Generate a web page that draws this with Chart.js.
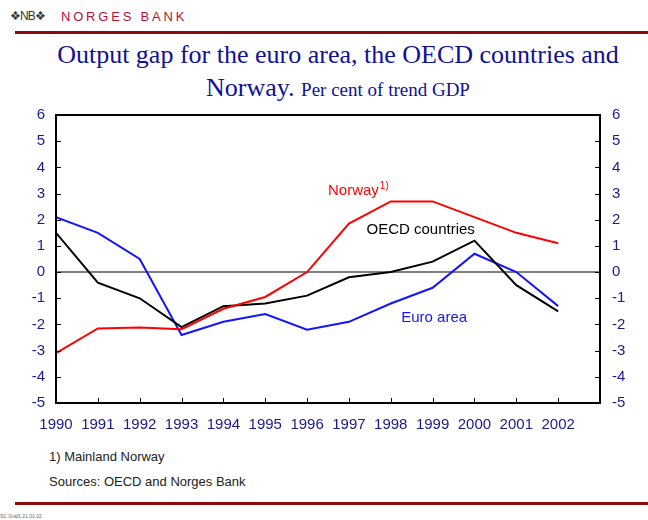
<!DOCTYPE html>
<html lang="en">
<head>
  <meta charset="UTF-8">
  <title>Output gap</title>
  <script src="https://cdn.jsdelivr.net/npm/chart.js"></script>
  <style>
    body {
      margin: 0;
      width: 648px;
      height: 520px;
      position: relative;
      background: #fff;
      overflow: hidden;
      font-family: "Liberation Sans", Arial, sans-serif;
    }
    .logo {
      position: absolute; left: 10px; top: 9px;
      font-size: 12px; color: #333; letter-spacing: -1px;
    }
    .bank {
      position: absolute; left: 61px; top: 9px;
      font-size: 13px; color: #b5103a; letter-spacing: 2.8px;
    }
    .rule {
      position: absolute; left: 15px; right: 0; height: 3px;
      background: #8e0a0a;
    }
    .title {
      position: absolute; left: 0; width: 676px; text-align: center;
      font-family: "Liberation Serif", "Times New Roman", serif;
      color: #10109a; white-space: nowrap;
    }
    .title small { font-size: 19px; }
    .note {
      position: absolute; left: 49px;
      font-family: "Liberation Sans Narrow", "Arial Narrow", "Liberation Sans", sans-serif;
      font-size: 13px; color: #222;
    }
    .stamp {
      position: absolute; left: 0; top: 513px;
      font-size: 5px; color: #666;
    }
    #chartBox {
      position: absolute; left: 0; top: 94px; width: 648px; height: 336px;
    }
  </style>
</head>
<body>
  <div class="logo">&#10070;NB&#10070;</div>
  <div class="bank">NORGES BANK</div>
  <div class="rule" style="top: 31px;"></div>
  <div class="title" style="top: 40px; font-size: 26px;">Output gap for the euro area, the OECD countries and</div>
  <div class="title" style="top: 73px; font-size: 26px;">Norway. <small>Per cent of trend GDP</small></div>
  <div id="chartBox"><canvas id="gapChart"></canvas></div>
  <div class="note" style="top: 449px;">1) Mainland Norway</div>
  <div class="note" style="top: 474px;">Sources: OECD and Norges Bank</div>
  <div class="rule" style="top: 502px;"></div>
  <div class="stamp">SC Graf1 21.01.02</div>

<script>
  const years = [1990, 1991, 1992, 1993, 1994, 1995, 1996, 1997, 1998, 1999, 2000, 2001, 2002];
  const euroArea = [2.1, 1.5, 0.5, -2.4, -1.9, -1.6, -2.2, -1.9, -1.2, -0.6, 0.7, 0.0, -1.3];
  const oecd = [1.5, -0.4, -1.0, -2.1, -1.3, -1.2, -0.9, -0.2, 0.0, 0.4, 1.2, -0.5, -1.5];
  const norway = [-3.1, -2.15, -2.12, -2.18, -1.4, -0.95, 0.0, 1.85, 2.7, 2.7, 2.1, 1.5, 1.1];
  const yTicks = [-5, -4, -3, -2, -1, 0, 1, 2, 3, 4, 5, 6];

  // in-chart series labels: [text, superscript, year, value, colour]
  const seriesLabels = [
    ['Norway', '1)', 1996.5, 3.1, '#ff0000'],
    ['OECD countries', '', 1997.42, 1.63, '#000000'],
    ['Euro area', '', 1998.25, -1.75, '#1414ff']
  ];

  const tickColor = '#1a1a8c';
  const tickFont = { family: '"Liberation Sans", Arial, sans-serif', size: 15 };

  function toPoints(vals) {
    return vals.map((v, i) => ({ x: years[i], y: v }));
  }

  // frame, inward tick marks and the series labels
  const decorations = {
    id: 'decorations',
    afterDatasetsDraw(chart) {
      const { ctx, chartArea: a, scales } = chart;
      ctx.save();
      ctx.strokeStyle = '#000';
      ctx.lineWidth = 2;
      ctx.strokeRect(a.left, a.top, a.right - a.left, a.bottom - a.top);
      ctx.lineWidth = 1;
      ctx.beginPath();
      scales.x.ticks.forEach(t => {
        const px = Math.round(scales.x.getPixelForValue(t.value)) + 0.5;
        ctx.moveTo(px, a.bottom);
        ctx.lineTo(px, a.bottom - 5);
      });
      scales.y.ticks.forEach(t => {
        const py = Math.round(scales.y.getPixelForValue(t.value)) + 0.5;
        ctx.moveTo(a.left, py);
        ctx.lineTo(a.left + 5, py);
        ctx.moveTo(a.right, py);
        ctx.lineTo(a.right - 5, py);
      });
      ctx.stroke();

      ctx.textBaseline = 'middle';
      ctx.textAlign = 'left';
      seriesLabels.forEach(([txt, sup, xv, yv, col]) => {
        const px = scales.x.getPixelForValue(xv);
        const py = scales.y.getPixelForValue(yv);
        ctx.fillStyle = col;
        ctx.font = '15px "Liberation Sans", Arial, sans-serif';
        ctx.fillText(txt, px, py);
        if (sup) {
          const w = ctx.measureText(txt).width;
          ctx.font = '10px "Liberation Sans", Arial, sans-serif';
          ctx.fillText(sup, px + w + 1, py - 5);
        }
      });
      ctx.restore();
    }
  };

  const lineDs = (label, vals, col) => ({
    label, data: toPoints(vals), borderColor: col, backgroundColor: col,
    borderWidth: 2, pointRadius: 0, tension: 0, fill: false
  });

  new Chart(document.getElementById('gapChart'), {
    type: 'line',
    data: {
      datasets: [
        lineDs('Norway', norway, '#ff0000'),
        lineDs('OECD countries', oecd, '#000000'),
        lineDs('Euro area', euroArea, '#1414ff')
      ]
    },
    options: {
      responsive: true,
      maintainAspectRatio: false,
      animation: false,
      layout: { padding: { top: 8, left: 0, right: 0, bottom: 0 } },
      plugins: { legend: { display: false }, tooltip: { enabled: false } },
      scales: {
        x: {
          type: 'linear', min: 1990, max: 2003,
          afterFit: s => { s.height = 27; },
          afterBuildTicks: s => { s.ticks = years.concat([2003]).map(v => ({ value: v })); },
          grid: { display: false, drawTicks: false },
          border: { display: false },
          ticks: {
            color: tickColor, font: tickFont, padding: 13, maxRotation: 0, autoSkip: false,
            callback: v => (years.includes(v) ? String(v) : '')
          }
        },
        y: {
          position: 'left', min: -5, max: 6,
          afterFit: s => { s.width = 56; },
          afterBuildTicks: s => { s.ticks = yTicks.map(v => ({ value: v })); },
          grid: {
            drawTicks: false, lineWidth: 2,
            color: c => (c.tick && c.tick.value === 0 ? '#808080' : 'rgba(0,0,0,0)')
          },
          border: { display: false },
          ticks: { color: tickColor, font: tickFont, padding: 11 }
        },
        y2: {
          position: 'right', min: -5, max: 6,
          afterFit: s => { s.width = 48; },
          afterBuildTicks: s => { s.ticks = yTicks.map(v => ({ value: v })); },
          grid: { display: false, drawTicks: false },
          border: { display: false },
          ticks: { color: tickColor, font: tickFont, padding: 12 }
        }
      }
    },
    plugins: [decorations]
  });
</script>
</body>
</html>
